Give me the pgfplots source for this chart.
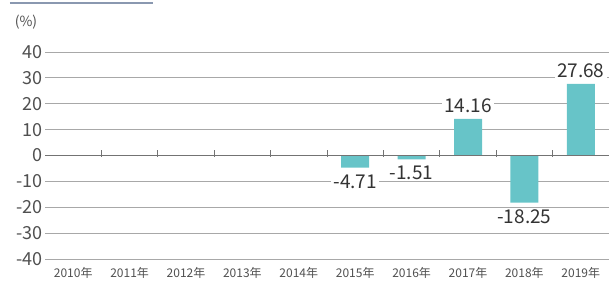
\documentclass[border=0pt]{standalone}
\usepackage{pgfplots}
\pgfplotsset{compat=1.18}
\usepackage{fontspec}
\setmainfont{Noto Sans CJK JP}
\definecolor{barc}{HTML}{67C4C8}
\definecolor{gridc}{HTML}{A8A8A8}
\definecolor{txt}{HTML}{333333}
\definecolor{ticktxt}{HTML}{505050}
\definecolor{topline}{HTML}{8A98B0}
\begin{document}
\begin{tikzpicture}[x=1pt,y=1pt]
\useasboundingbox (-45,-27) rectangle (564,259);
\clip (-45,-27) rectangle (564,259);
\draw[topline,line width=2pt] (-35,256) -- (108,256);
\node[ticktxt,font=\fontsize{14}{14}\selectfont] at (-19,237) {(\%)};
\begin{axis}[
  at={(0,0)}, anchor=south west,
  scale only axis, width=564pt, height=207pt,
  xmin=-0.5, xmax=9.5, ymin=-40, ymax=40,
  axis line style={draw=none},
  ytick={-40,-30,...,40},
  yticklabels={-40,-30,-20,-10,0,10,20,30,40},
  xtick={0,...,9},
  xticklabels={2010年,2011年,2012年,2013年,2014年,2015年,2016年,2017年,2018年,2019年},
  major tick length=0pt,
  ymajorgrids,
  grid style={gridc,line width=0.9pt},
  yticklabel style={ticktxt,font=\fontsize{18}{18}\selectfont,xshift=1pt},
  xticklabel style={ticktxt,font=\fontsize{12}{12}\selectfont,yshift=-5pt},
  /pgf/number format/assume math mode=true,
  ybar, bar width=28pt, bar shift=0pt,
  point meta=explicit symbolic,
  nodes near coords,
  clip=false,
]
\addplot[draw=none,fill=barc,
  every node near coord/.style={anchor=south,txt,font=\fontsize{19}{19}\selectfont,fill=white,inner xsep=2pt,inner ysep=1pt,outer ysep=5pt}]
  coordinates {(7,14.16) [14.16] (9,27.68) [27.68]};
\addplot[draw=none,fill=barc,
  every node near coord/.style={anchor=north,txt,font=\fontsize{19}{19}\selectfont,fill=white,inner xsep=2pt,inner ysep=1pt,outer ysep=6pt}]
  coordinates {(5,-4.71) [-4.71] (6,-1.51) [-1.51] (8,-18.25) [-18.25]};
\draw[gray!90!black,line width=0.9pt] (axis cs:-0.5,0) -- (axis cs:9.5,0);
\pgfplotsinvokeforeach{0.5,1.5,...,8.5}{\draw[gray!90!black,line width=0.8pt] (axis cs:#1,-0.4) -- (axis cs:#1,2);}
\end{axis}
\end{tikzpicture}
\end{document}
